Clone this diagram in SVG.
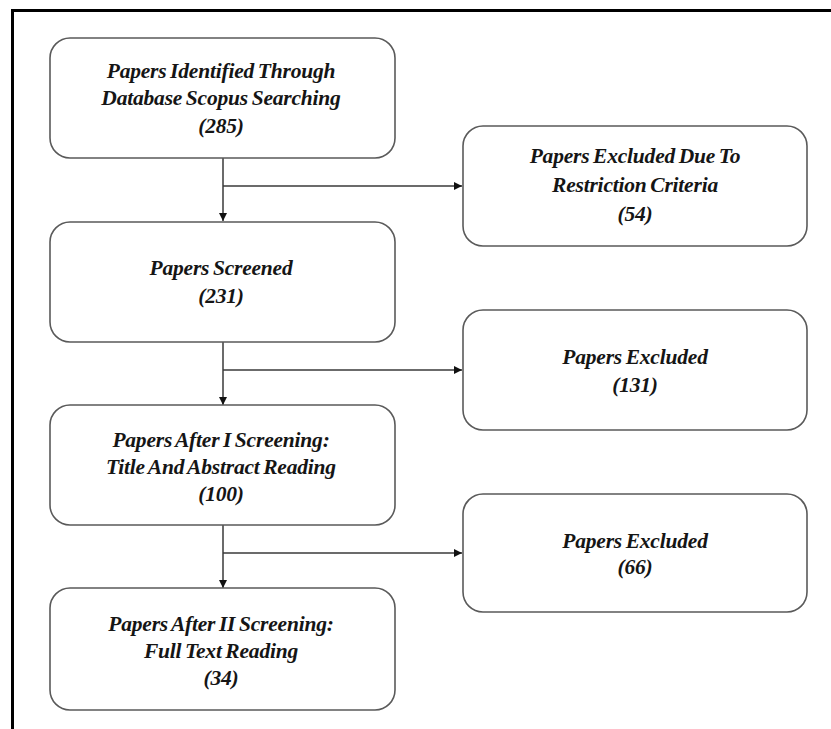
<svg xmlns="http://www.w3.org/2000/svg" width="831" height="729" viewBox="0 0 831 729">
  <style>
    .box { fill: #ffffff; stroke: #5a5a5a; stroke-width: 1.6; }
    .lbl { font-family: "Liberation Serif", "Times New Roman", serif; font-size: 21.5px; font-weight: bold; font-style: italic; fill: #151515; text-anchor: middle; word-spacing: -1.5px; letter-spacing: -0.2px; }
    .conn { fill: none; stroke: #3a3a3a; stroke-width: 1.5; }
    .frame { stroke: #000000; stroke-width: 3; fill: none; }
  </style>
  <defs>
    <marker id="arrow" viewBox="0 0 10 10" refX="10" refY="5" markerWidth="8" markerHeight="8" markerUnits="userSpaceOnUse" orient="auto">
      <path d="M0,0 L10,5 L0,10 Z" fill="#111111"/>
    </marker>
  </defs>
  <rect width="831" height="729" fill="#ffffff"/>
  <g id="frame">
    <path class="frame" d="M12.5,729 L12.5,10.5 L831,10.5"/>
  </g>

  <g id="connectors">
    <path class="conn" d="M223,158 L223,221" marker-end="url(#arrow)"/>
    <path class="conn" d="M223,186 L462,186" marker-end="url(#arrow)"/>
    <path class="conn" d="M223,342 L223,405" marker-end="url(#arrow)"/>
    <path class="conn" d="M223,370 L462,370" marker-end="url(#arrow)"/>
    <path class="conn" d="M223,525 L223,588" marker-end="url(#arrow)"/>
    <path class="conn" d="M223,553 L462,553" marker-end="url(#arrow)"/>
  </g>

  <g id="node-identified">
    <rect class="box" x="50" y="38" width="345" height="120" rx="20" ry="20"/>
    <text class="lbl" x="221" y="78">Papers Identified Through</text>
    <text class="lbl" x="221" y="105">Database Scopus Searching</text>
    <text class="lbl" x="221" y="133">(285)</text>
  </g>

  <g id="node-excluded-restriction">
    <rect class="box" x="463" y="126" width="344" height="120" rx="20" ry="20"/>
    <text class="lbl" x="635" y="163">Papers Excluded Due To</text>
    <text class="lbl" x="635" y="192">Restriction Criteria</text>
    <text class="lbl" x="635" y="221">(54)</text>
  </g>

  <g id="node-screened">
    <rect class="box" x="50" y="222" width="345" height="120" rx="20" ry="20"/>
    <text class="lbl" x="221" y="275">Papers Screened</text>
    <text class="lbl" x="221" y="303">(231)</text>
  </g>

  <g id="node-excluded-131">
    <rect class="box" x="463" y="310" width="344" height="120" rx="20" ry="20"/>
    <text class="lbl" x="635" y="364">Papers Excluded</text>
    <text class="lbl" x="635" y="392">(131)</text>
  </g>

  <g id="node-first-screening">
    <rect class="box" x="50" y="405" width="345" height="120" rx="20" ry="20"/>
    <text class="lbl" x="221" y="447">Papers After I Screening:</text>
    <text class="lbl" x="221" y="474">Title And Abstract Reading</text>
    <text class="lbl" x="221" y="501">(100)</text>
  </g>

  <g id="node-excluded-66">
    <rect class="box" x="463" y="494" width="344" height="118" rx="20" ry="20"/>
    <text class="lbl" x="635" y="548">Papers Excluded</text>
    <text class="lbl" x="635" y="574">(66)</text>
  </g>

  <g id="node-second-screening">
    <rect class="box" x="50" y="588" width="345" height="122" rx="20" ry="20"/>
    <text class="lbl" x="221" y="631">Papers After II Screening:</text>
    <text class="lbl" x="221" y="658">Full Text Reading</text>
    <text class="lbl" x="221" y="685">(34)</text>
  </g>
</svg>
